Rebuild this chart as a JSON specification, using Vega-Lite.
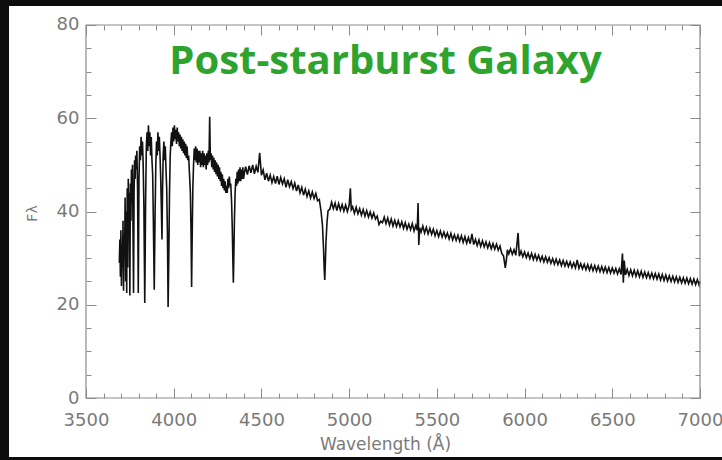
{
  "$schema": "https://vega.github.io/schema/vega-lite/v6.json",
  "width": 713,
  "height": 451,
  "autosize": {"type": "none"},
  "padding": {"left": 9, "top": 6, "right": 0, "bottom": 3},
  "background": "#0c0c0c",
  "config": {
    "view": {"fill": "white", "stroke": null},
    "axis": {"grid": false, "domain": false, "tickColor": "#8c8c8c", "tickWidth": 1, "labelFont": "DejaVu Sans", "labelColor": "#7a7a7a", "titleFont": "DejaVu Sans", "titleColor": "#7a7a7a", "titleFontWeight": "normal"}
  },
  "title": {
    "text": "Post-starburst Galaxy",
    "font": "Open Sans",
    "fontSize": 40,
    "fontWeight": "bold",
    "color": "#2ea32e",
    "anchor": "middle",
    "orient": "top",
    "baseline": "alphabetic",
    "offset": -108,
    "dx": 20
  },
  "data": {
    "values": [
      {"wavelength": 3690, "flux": 29}, {"wavelength": 3693, "flux": 34}, {"wavelength": 3696, "flux": 26}, {"wavelength": 3699, "flux": 36},
      {"wavelength": 3702, "flux": 24}, {"wavelength": 3705, "flux": 33}, {"wavelength": 3708, "flux": 28}, {"wavelength": 3711, "flux": 38},
      {"wavelength": 3714, "flux": 23}, {"wavelength": 3717, "flux": 35}, {"wavelength": 3720, "flux": 30}, {"wavelength": 3723, "flux": 43},
      {"wavelength": 3726, "flux": 25}, {"wavelength": 3729, "flux": 40}, {"wavelength": 3732, "flux": 22.5}, {"wavelength": 3735, "flux": 45},
      {"wavelength": 3738, "flux": 28}, {"wavelength": 3741, "flux": 47}, {"wavelength": 3744, "flux": 35}, {"wavelength": 3747, "flux": 44},
      {"wavelength": 3750, "flux": 22}, {"wavelength": 3753, "flux": 46}, {"wavelength": 3756, "flux": 38}, {"wavelength": 3759, "flux": 49},
      {"wavelength": 3762, "flux": 42}, {"wavelength": 3765, "flux": 50}, {"wavelength": 3768, "flux": 36}, {"wavelength": 3771, "flux": 22.5},
      {"wavelength": 3774, "flux": 44}, {"wavelength": 3777, "flux": 51}, {"wavelength": 3780, "flux": 47}, {"wavelength": 3783, "flux": 52},
      {"wavelength": 3786, "flux": 49}, {"wavelength": 3790, "flux": 53}, {"wavelength": 3794, "flux": 45}, {"wavelength": 3798, "flux": 22.5},
      {"wavelength": 3802, "flux": 47}, {"wavelength": 3806, "flux": 54}, {"wavelength": 3810, "flux": 51}, {"wavelength": 3814, "flux": 56},
      {"wavelength": 3818, "flux": 52}, {"wavelength": 3822, "flux": 55}, {"wavelength": 3826, "flux": 50}, {"wavelength": 3830, "flux": 41},
      {"wavelength": 3835, "flux": 20.4}, {"wavelength": 3840, "flux": 43}, {"wavelength": 3844, "flux": 54}, {"wavelength": 3848, "flux": 57},
      {"wavelength": 3852, "flux": 53}, {"wavelength": 3856, "flux": 58.5}, {"wavelength": 3860, "flux": 54}, {"wavelength": 3864, "flux": 57},
      {"wavelength": 3868, "flux": 52}, {"wavelength": 3872, "flux": 56}, {"wavelength": 3876, "flux": 51}, {"wavelength": 3880, "flux": 48},
      {"wavelength": 3884, "flux": 38}, {"wavelength": 3889, "flux": 23.2}, {"wavelength": 3894, "flux": 40}, {"wavelength": 3898, "flux": 50},
      {"wavelength": 3902, "flux": 55}, {"wavelength": 3906, "flux": 52}, {"wavelength": 3910, "flux": 57}, {"wavelength": 3914, "flux": 53},
      {"wavelength": 3918, "flux": 56}, {"wavelength": 3922, "flux": 52}, {"wavelength": 3926, "flux": 47}, {"wavelength": 3930, "flux": 40},
      {"wavelength": 3933, "flux": 34}, {"wavelength": 3936, "flux": 44}, {"wavelength": 3940, "flux": 52}, {"wavelength": 3944, "flux": 55},
      {"wavelength": 3948, "flux": 51}, {"wavelength": 3952, "flux": 54}, {"wavelength": 3956, "flux": 49}, {"wavelength": 3960, "flux": 45},
      {"wavelength": 3964, "flux": 36}, {"wavelength": 3968, "flux": 19.5}, {"wavelength": 3972, "flux": 30}, {"wavelength": 3976, "flux": 44},
      {"wavelength": 3980, "flux": 52}, {"wavelength": 3984, "flux": 55}, {"wavelength": 3988, "flux": 57}, {"wavelength": 3992, "flux": 54},
      {"wavelength": 3996, "flux": 58}, {"wavelength": 4000, "flux": 55}, {"wavelength": 4004, "flux": 58.5}, {"wavelength": 4008, "flux": 55.5},
      {"wavelength": 4012, "flux": 57.5}, {"wavelength": 4016, "flux": 54.5}, {"wavelength": 4020, "flux": 58}, {"wavelength": 4024, "flux": 55},
      {"wavelength": 4028, "flux": 57}, {"wavelength": 4032, "flux": 54}, {"wavelength": 4036, "flux": 56.5}, {"wavelength": 4040, "flux": 53.5},
      {"wavelength": 4044, "flux": 56}, {"wavelength": 4048, "flux": 53}, {"wavelength": 4052, "flux": 55.5}, {"wavelength": 4056, "flux": 52.5},
      {"wavelength": 4060, "flux": 55}, {"wavelength": 4064, "flux": 52}, {"wavelength": 4068, "flux": 54.5}, {"wavelength": 4072, "flux": 51.5},
      {"wavelength": 4076, "flux": 54}, {"wavelength": 4080, "flux": 51}, {"wavelength": 4085, "flux": 52}, {"wavelength": 4090, "flux": 48},
      {"wavelength": 4095, "flux": 44}, {"wavelength": 4099, "flux": 35}, {"wavelength": 4102, "flux": 23.8}, {"wavelength": 4105, "flux": 34},
      {"wavelength": 4109, "flux": 45}, {"wavelength": 4113, "flux": 50}, {"wavelength": 4117, "flux": 53.5}, {"wavelength": 4121, "flux": 51},
      {"wavelength": 4125, "flux": 54}, {"wavelength": 4129, "flux": 50.5}, {"wavelength": 4133, "flux": 53.5}, {"wavelength": 4137, "flux": 50},
      {"wavelength": 4141, "flux": 53}, {"wavelength": 4145, "flux": 50.5}, {"wavelength": 4149, "flux": 53}, {"wavelength": 4153, "flux": 49.5},
      {"wavelength": 4157, "flux": 52.5}, {"wavelength": 4161, "flux": 50}, {"wavelength": 4165, "flux": 53}, {"wavelength": 4169, "flux": 49.5},
      {"wavelength": 4173, "flux": 52.5}, {"wavelength": 4177, "flux": 50}, {"wavelength": 4181, "flux": 52}, {"wavelength": 4185, "flux": 49},
      {"wavelength": 4189, "flux": 52.5}, {"wavelength": 4193, "flux": 50}, {"wavelength": 4197, "flux": 53}, {"wavelength": 4201, "flux": 50.5},
      {"wavelength": 4205, "flux": 60.3}, {"wavelength": 4209, "flux": 51}, {"wavelength": 4213, "flux": 52.5}, {"wavelength": 4217, "flux": 49.5},
      {"wavelength": 4221, "flux": 52}, {"wavelength": 4225, "flux": 49}, {"wavelength": 4229, "flux": 51.5}, {"wavelength": 4233, "flux": 48.5},
      {"wavelength": 4237, "flux": 51}, {"wavelength": 4241, "flux": 48}, {"wavelength": 4245, "flux": 50.5}, {"wavelength": 4249, "flux": 47.5},
      {"wavelength": 4253, "flux": 50}, {"wavelength": 4257, "flux": 47}, {"wavelength": 4261, "flux": 49.5}, {"wavelength": 4265, "flux": 46.5},
      {"wavelength": 4269, "flux": 48.5}, {"wavelength": 4273, "flux": 45.5}, {"wavelength": 4277, "flux": 48}, {"wavelength": 4281, "flux": 45},
      {"wavelength": 4285, "flux": 47}, {"wavelength": 4289, "flux": 44.5}, {"wavelength": 4293, "flux": 46.5}, {"wavelength": 4297, "flux": 44},
      {"wavelength": 4301, "flux": 45.5}, {"wavelength": 4305, "flux": 44}, {"wavelength": 4309, "flux": 47}, {"wavelength": 4313, "flux": 45},
      {"wavelength": 4317, "flux": 47.5}, {"wavelength": 4321, "flux": 45.5}, {"wavelength": 4325, "flux": 46}, {"wavelength": 4330, "flux": 42},
      {"wavelength": 4334, "flux": 36}, {"wavelength": 4337, "flux": 30}, {"wavelength": 4340, "flux": 24.7}, {"wavelength": 4343, "flux": 31},
      {"wavelength": 4346, "flux": 38}, {"wavelength": 4350, "flux": 44}, {"wavelength": 4354, "flux": 47}, {"wavelength": 4358, "flux": 45.5},
      {"wavelength": 4362, "flux": 48.5}, {"wavelength": 4366, "flux": 46}, {"wavelength": 4370, "flux": 49}, {"wavelength": 4374, "flux": 46.5},
      {"wavelength": 4378, "flux": 49.5}, {"wavelength": 4382, "flux": 46.5}, {"wavelength": 4386, "flux": 49}, {"wavelength": 4390, "flux": 47},
      {"wavelength": 4394, "flux": 49.5}, {"wavelength": 4398, "flux": 47}, {"wavelength": 4402, "flux": 48.0}, {"wavelength": 4410, "flux": 49.6},
      {"wavelength": 4420, "flux": 47.9}, {"wavelength": 4430, "flux": 49.8}, {"wavelength": 4440, "flux": 48.3}, {"wavelength": 4450, "flux": 50.0},
      {"wavelength": 4460, "flux": 48.1}, {"wavelength": 4470, "flux": 49.7}, {"wavelength": 4480, "flux": 48.4}, {"wavelength": 4490, "flux": 52.6},
      {"wavelength": 4500, "flux": 47.8}, {"wavelength": 4510, "flux": 48.9}, {"wavelength": 4520, "flux": 46.8}, {"wavelength": 4530, "flux": 48.2},
      {"wavelength": 4540, "flux": 46.5}, {"wavelength": 4550, "flux": 47.8}, {"wavelength": 4560, "flux": 46.2}, {"wavelength": 4570, "flux": 47.5},
      {"wavelength": 4580, "flux": 46.0}, {"wavelength": 4590, "flux": 47.6}, {"wavelength": 4600, "flux": 45.8}, {"wavelength": 4610, "flux": 47.3},
      {"wavelength": 4620, "flux": 45.9}, {"wavelength": 4630, "flux": 47.0}, {"wavelength": 4640, "flux": 45.2}, {"wavelength": 4650, "flux": 46.8},
      {"wavelength": 4660, "flux": 45.3}, {"wavelength": 4670, "flux": 46.4}, {"wavelength": 4680, "flux": 44.9}, {"wavelength": 4690, "flux": 46.1},
      {"wavelength": 4700, "flux": 44.4}, {"wavelength": 4710, "flux": 45.7}, {"wavelength": 4720, "flux": 44.0}, {"wavelength": 4730, "flux": 45.2},
      {"wavelength": 4740, "flux": 43.5}, {"wavelength": 4750, "flux": 44.8}, {"wavelength": 4760, "flux": 43.2}, {"wavelength": 4770, "flux": 44.4},
      {"wavelength": 4780, "flux": 42.9}, {"wavelength": 4790, "flux": 44.2}, {"wavelength": 4800, "flux": 42.8}, {"wavelength": 4810, "flux": 43.9},
      {"wavelength": 4820, "flux": 42.3}, {"wavelength": 4830, "flux": 42.6}, {"wavelength": 4840, "flux": 40.0}, {"wavelength": 4848, "flux": 37.0},
      {"wavelength": 4854, "flux": 32.0}, {"wavelength": 4858, "flux": 27.5}, {"wavelength": 4861, "flux": 25.3}, {"wavelength": 4864, "flux": 28.5},
      {"wavelength": 4868, "flux": 33.5}, {"wavelength": 4874, "flux": 37.8}, {"wavelength": 4880, "flux": 40.2}, {"wavelength": 4890, "flux": 40.5},
      {"wavelength": 4900, "flux": 42.0}, {"wavelength": 4910, "flux": 40.6}, {"wavelength": 4920, "flux": 41.8}, {"wavelength": 4930, "flux": 40.2},
      {"wavelength": 4940, "flux": 41.7}, {"wavelength": 4950, "flux": 40.3}, {"wavelength": 4960, "flux": 41.5}, {"wavelength": 4970, "flux": 40.1},
      {"wavelength": 4980, "flux": 41.4}, {"wavelength": 4990, "flux": 40.0}, {"wavelength": 5000, "flux": 41.3}, {"wavelength": 5007, "flux": 45.0},
      {"wavelength": 5012, "flux": 40.4}, {"wavelength": 5020, "flux": 41.0}, {"wavelength": 5030, "flux": 39.6}, {"wavelength": 5040, "flux": 40.9},
      {"wavelength": 5050, "flux": 39.5}, {"wavelength": 5060, "flux": 40.6}, {"wavelength": 5070, "flux": 39.2}, {"wavelength": 5080, "flux": 40.4},
      {"wavelength": 5090, "flux": 39.0}, {"wavelength": 5100, "flux": 40.2}, {"wavelength": 5110, "flux": 38.8}, {"wavelength": 5120, "flux": 39.9},
      {"wavelength": 5130, "flux": 38.6}, {"wavelength": 5140, "flux": 39.7}, {"wavelength": 5150, "flux": 38.4}, {"wavelength": 5160, "flux": 39.0},
      {"wavelength": 5170, "flux": 37.2}, {"wavelength": 5180, "flux": 37.9}, {"wavelength": 5190, "flux": 37.6}, {"wavelength": 5200, "flux": 38.8},
      {"wavelength": 5210, "flux": 37.4}, {"wavelength": 5220, "flux": 38.6}, {"wavelength": 5230, "flux": 37.1}, {"wavelength": 5240, "flux": 38.4},
      {"wavelength": 5250, "flux": 36.9}, {"wavelength": 5260, "flux": 38.1}, {"wavelength": 5270, "flux": 36.8}, {"wavelength": 5280, "flux": 38.0},
      {"wavelength": 5290, "flux": 36.7}, {"wavelength": 5300, "flux": 37.8}, {"wavelength": 5310, "flux": 36.4}, {"wavelength": 5320, "flux": 37.6},
      {"wavelength": 5330, "flux": 36.2}, {"wavelength": 5340, "flux": 37.3}, {"wavelength": 5350, "flux": 36.1}, {"wavelength": 5360, "flux": 37.4},
      {"wavelength": 5370, "flux": 35.8}, {"wavelength": 5380, "flux": 37.0}, {"wavelength": 5388, "flux": 36.0}, {"wavelength": 5393, "flux": 41.8},
      {"wavelength": 5397, "flux": 32.8}, {"wavelength": 5402, "flux": 36.5}, {"wavelength": 5410, "flux": 35.6}, {"wavelength": 5420, "flux": 36.9},
      {"wavelength": 5430, "flux": 35.4}, {"wavelength": 5440, "flux": 36.6}, {"wavelength": 5450, "flux": 35.2}, {"wavelength": 5460, "flux": 36.4},
      {"wavelength": 5470, "flux": 35.1}, {"wavelength": 5480, "flux": 36.2}, {"wavelength": 5490, "flux": 34.8}, {"wavelength": 5500, "flux": 35.9},
      {"wavelength": 5510, "flux": 34.6}, {"wavelength": 5520, "flux": 35.8}, {"wavelength": 5530, "flux": 34.5}, {"wavelength": 5540, "flux": 35.6},
      {"wavelength": 5550, "flux": 34.4}, {"wavelength": 5560, "flux": 35.4}, {"wavelength": 5570, "flux": 34.1}, {"wavelength": 5580, "flux": 35.3},
      {"wavelength": 5590, "flux": 33.9}, {"wavelength": 5600, "flux": 35.0}, {"wavelength": 5610, "flux": 33.8}, {"wavelength": 5620, "flux": 34.9},
      {"wavelength": 5630, "flux": 33.6}, {"wavelength": 5640, "flux": 34.8}, {"wavelength": 5650, "flux": 33.4}, {"wavelength": 5660, "flux": 34.6},
      {"wavelength": 5670, "flux": 33.2}, {"wavelength": 5680, "flux": 34.4}, {"wavelength": 5690, "flux": 33.1}, {"wavelength": 5700, "flux": 35.2},
      {"wavelength": 5710, "flux": 32.9}, {"wavelength": 5720, "flux": 34.0}, {"wavelength": 5730, "flux": 32.7}, {"wavelength": 5740, "flux": 33.9},
      {"wavelength": 5750, "flux": 32.5}, {"wavelength": 5760, "flux": 33.7}, {"wavelength": 5770, "flux": 32.4}, {"wavelength": 5780, "flux": 33.5},
      {"wavelength": 5790, "flux": 32.2}, {"wavelength": 5800, "flux": 33.3}, {"wavelength": 5810, "flux": 32.0}, {"wavelength": 5820, "flux": 33.1},
      {"wavelength": 5830, "flux": 31.9}, {"wavelength": 5840, "flux": 33.0}, {"wavelength": 5850, "flux": 31.7}, {"wavelength": 5860, "flux": 32.6},
      {"wavelength": 5870, "flux": 31.0}, {"wavelength": 5880, "flux": 30.5}, {"wavelength": 5890, "flux": 27.9}, {"wavelength": 5896, "flux": 29.5},
      {"wavelength": 5902, "flux": 31.8}, {"wavelength": 5910, "flux": 30.9}, {"wavelength": 5920, "flux": 32.0}, {"wavelength": 5930, "flux": 30.8},
      {"wavelength": 5940, "flux": 31.8}, {"wavelength": 5950, "flux": 30.6}, {"wavelength": 5963, "flux": 35.4}, {"wavelength": 5970, "flux": 30.4},
      {"wavelength": 5980, "flux": 31.5}, {"wavelength": 5990, "flux": 30.3}, {"wavelength": 6000, "flux": 31.3}, {"wavelength": 6010, "flux": 30.1},
      {"wavelength": 6020, "flux": 31.1}, {"wavelength": 6030, "flux": 29.9}, {"wavelength": 6040, "flux": 31.0}, {"wavelength": 6050, "flux": 29.7},
      {"wavelength": 6060, "flux": 30.8}, {"wavelength": 6070, "flux": 29.6}, {"wavelength": 6080, "flux": 30.6}, {"wavelength": 6090, "flux": 29.4},
      {"wavelength": 6100, "flux": 30.4}, {"wavelength": 6110, "flux": 29.2}, {"wavelength": 6120, "flux": 30.3}, {"wavelength": 6130, "flux": 29.1},
      {"wavelength": 6140, "flux": 30.1}, {"wavelength": 6150, "flux": 28.9}, {"wavelength": 6160, "flux": 29.9}, {"wavelength": 6170, "flux": 28.7},
      {"wavelength": 6180, "flux": 29.8}, {"wavelength": 6190, "flux": 28.6}, {"wavelength": 6200, "flux": 29.6}, {"wavelength": 6210, "flux": 28.4},
      {"wavelength": 6220, "flux": 29.5}, {"wavelength": 6230, "flux": 28.3}, {"wavelength": 6240, "flux": 29.3}, {"wavelength": 6250, "flux": 28.2},
      {"wavelength": 6260, "flux": 29.2}, {"wavelength": 6270, "flux": 28.0}, {"wavelength": 6280, "flux": 29.0}, {"wavelength": 6290, "flux": 27.9},
      {"wavelength": 6300, "flux": 29.6}, {"wavelength": 6310, "flux": 27.8}, {"wavelength": 6320, "flux": 28.8}, {"wavelength": 6330, "flux": 27.7},
      {"wavelength": 6340, "flux": 28.7}, {"wavelength": 6350, "flux": 27.5}, {"wavelength": 6360, "flux": 28.6}, {"wavelength": 6370, "flux": 27.4},
      {"wavelength": 6380, "flux": 28.5}, {"wavelength": 6390, "flux": 27.3}, {"wavelength": 6400, "flux": 28.4}, {"wavelength": 6410, "flux": 27.2},
      {"wavelength": 6420, "flux": 28.3}, {"wavelength": 6430, "flux": 27.1}, {"wavelength": 6440, "flux": 28.2}, {"wavelength": 6450, "flux": 27.0},
      {"wavelength": 6460, "flux": 28.1}, {"wavelength": 6470, "flux": 26.9}, {"wavelength": 6480, "flux": 28.0}, {"wavelength": 6490, "flux": 26.8},
      {"wavelength": 6500, "flux": 27.9}, {"wavelength": 6510, "flux": 26.8}, {"wavelength": 6520, "flux": 27.8}, {"wavelength": 6530, "flux": 26.6},
      {"wavelength": 6540, "flux": 27.7}, {"wavelength": 6550, "flux": 26.5}, {"wavelength": 6558, "flux": 31.0}, {"wavelength": 6563, "flux": 24.7},
      {"wavelength": 6568, "flux": 29.5}, {"wavelength": 6575, "flux": 26.4}, {"wavelength": 6585, "flux": 27.6}, {"wavelength": 6595, "flux": 26.3},
      {"wavelength": 6605, "flux": 27.5}, {"wavelength": 6615, "flux": 26.2}, {"wavelength": 6625, "flux": 27.4}, {"wavelength": 6635, "flux": 26.1},
      {"wavelength": 6645, "flux": 27.3}, {"wavelength": 6655, "flux": 26.0}, {"wavelength": 6665, "flux": 27.2}, {"wavelength": 6675, "flux": 25.9},
      {"wavelength": 6685, "flux": 27.0}, {"wavelength": 6695, "flux": 25.8}, {"wavelength": 6705, "flux": 26.9}, {"wavelength": 6715, "flux": 25.7},
      {"wavelength": 6725, "flux": 26.8}, {"wavelength": 6735, "flux": 25.6}, {"wavelength": 6745, "flux": 26.7}, {"wavelength": 6755, "flux": 25.5},
      {"wavelength": 6765, "flux": 26.6}, {"wavelength": 6775, "flux": 25.3}, {"wavelength": 6785, "flux": 26.5}, {"wavelength": 6795, "flux": 25.2},
      {"wavelength": 6805, "flux": 26.4}, {"wavelength": 6815, "flux": 25.1}, {"wavelength": 6825, "flux": 26.2}, {"wavelength": 6835, "flux": 25.0},
      {"wavelength": 6845, "flux": 26.1}, {"wavelength": 6855, "flux": 24.9}, {"wavelength": 6865, "flux": 26.0}, {"wavelength": 6875, "flux": 24.8},
      {"wavelength": 6885, "flux": 25.9}, {"wavelength": 6895, "flux": 24.7}, {"wavelength": 6905, "flux": 25.8}, {"wavelength": 6915, "flux": 24.6},
      {"wavelength": 6925, "flux": 25.7}, {"wavelength": 6935, "flux": 24.5}, {"wavelength": 6945, "flux": 25.6}, {"wavelength": 6955, "flux": 24.4},
      {"wavelength": 6965, "flux": 25.5}, {"wavelength": 6975, "flux": 24.3}, {"wavelength": 6985, "flux": 25.4}, {"wavelength": 6995, "flux": 24.2},
      {"wavelength": 7000, "flux": 25.0}
    ]
  },
  "layer": [
    {
      "mark": {"type": "line", "color": "#111111", "strokeWidth": 1.6},
      "encoding": {
        "x": {
          "field": "wavelength",
          "type": "quantitative",
          "scale": {"domain": [3061.07, 7125.41], "nice": false, "zero": false},
          "axis": {
            "orient": "bottom",
            "offset": -59,
            "values": [3500, 3600, 3700, 3800, 3900, 4000, 4100, 4200, 4300, 4400, 4500, 4600, 4700, 4800, 4900, 5000, 5100, 5200, 5300, 5400, 5500, 5600, 5700, 5800, 5900, 6000, 6100, 6200, 6300, 6400, 6500, 6600, 6700, 6800, 6900, 7000],
            "format": "d",
            "labelExpr": "datum.value % 500 === 0 ? datum.label : ''",
            "labelOverlap": false,
            "labelFlush": false,
            "labelFontSize": 18,
            "labelPadding": 23,
            "tickSize": {"condition": {"test": "datum.value % 500 === 0", "value": -10}, "value": -5},
            "title": "Wavelength (Å)",
            "titleFontSize": 17,
            "titleX": 376,
            "titleY": 46,
            "titleBaseline": "middle"
          }
        },
        "y": {
          "field": "flux",
          "type": "quantitative",
          "scale": {"domain": [-12.654, 84.075], "nice": false, "zero": false},
          "axis": {
            "orient": "left",
            "offset": -77,
            "values": [0, 5, 10, 15, 20, 25, 30, 35, 40, 45, 50, 55, 60, 65, 70, 75, 80],
            "format": "d",
            "labelExpr": "datum.value % 20 === 0 ? datum.label : ''",
            "labelOverlap": false,
            "labelFlush": false,
            "labelFontSize": 18,
            "labelPadding": 17,
            "tickSize": {"condition": {"test": "datum.value % 20 === 0", "value": -10}, "value": -5},
            "title": "Fλ",
            "titleFontSize": 14,
            "titleX": -54,
            "titleY": 207,
            "titleBaseline": "middle"
          }
        }
      }
    },
    {
      "data": {"values": [{}]},
      "mark": {"type": "rect", "filled": false, "color": "#8c8c8c", "strokeWidth": 1.2},
      "encoding": {
        "x": {
          "datum": 3500,
          "type": "quantitative",
          "scale": {"domain": [3061.07, 7125.41], "nice": false, "zero": false},
          "axis": {
            "orient": "top",
            "offset": -19,
            "values": [3500, 3600, 3700, 3800, 3900, 4000, 4100, 4200, 4300, 4400, 4500, 4600, 4700, 4800, 4900, 5000, 5100, 5200, 5300, 5400, 5500, 5600, 5700, 5800, 5900, 6000, 6100, 6200, 6300, 6400, 6500, 6600, 6700, 6800, 6900, 7000],
            "labels": false,
            "tickSize": {"condition": {"test": "datum.value % 500 === 0", "value": -10}, "value": -5},
            "title": null
          }
        },
        "x2": {"datum": 7000},
        "y": {
          "datum": 0,
          "type": "quantitative",
          "scale": {"domain": [-12.654, 84.075], "nice": false, "zero": false},
          "axis": {
            "orient": "right",
            "offset": -22,
            "values": [0, 5, 10, 15, 20, 25, 30, 35, 40, 45, 50, 55, 60, 65, 70, 75, 80],
            "labels": false,
            "tickSize": {"condition": {"test": "datum.value % 20 === 0", "value": -10}, "value": -5},
            "title": null
          }
        },
        "y2": {"datum": 80}
      }
    }
  ],
  "resolve": {"axis": {"x": "independent", "y": "independent"}}
}
